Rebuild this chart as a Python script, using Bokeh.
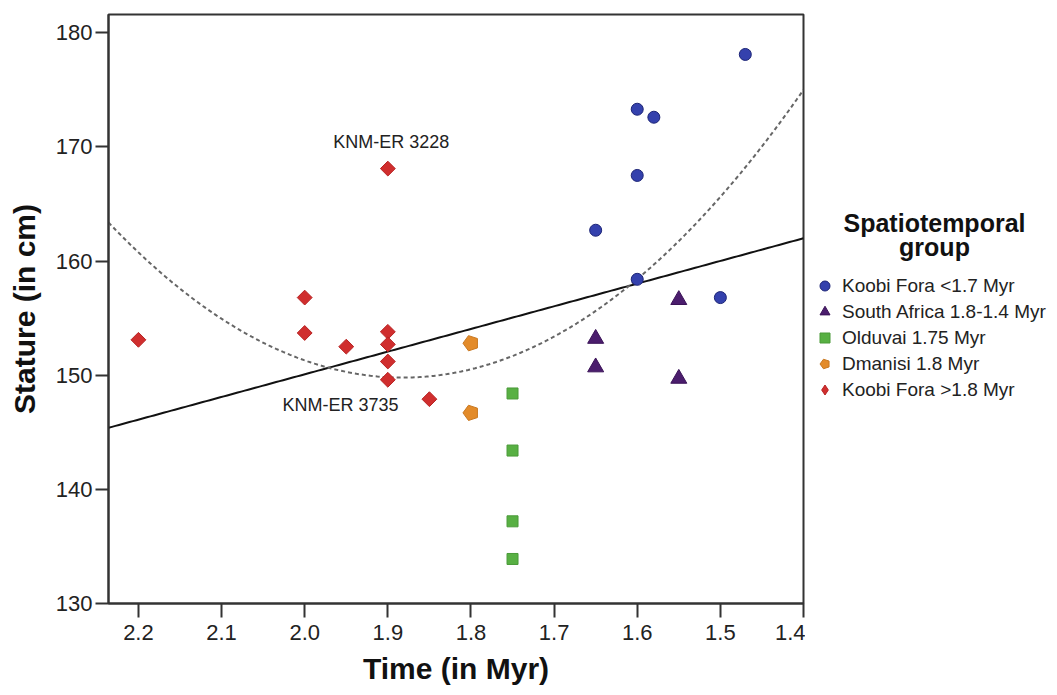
import numpy as np
from bokeh.plotting import figure
from bokeh.layouts import row
from bokeh.models import Range1d, FixedTicker, NumeralTickFormatter, Legend, LegendItem, Label
from bokeh.embed import file_html
from bokeh.resources import INLINE

# ---- data ----
kf_young_time = [1.47, 1.60, 1.58, 1.60, 1.65, 1.60, 1.50]
kf_young_stature = [178.1, 173.3, 172.6, 167.5, 162.7, 158.4, 156.8]
sa_time = [1.55, 1.65, 1.65, 1.55]
sa_stature = [156.6, 153.2, 150.7, 149.7]
olduvai_time = [1.75, 1.75, 1.75, 1.75]
olduvai_stature = [148.4, 143.4, 137.2, 133.9]
dmanisi_time = [1.80, 1.80]
dmanisi_stature = [152.8, 146.7]
kf_old_time = [1.90, 2.00, 2.20, 2.00, 1.95, 1.90, 1.90, 1.90, 1.90, 1.85]
kf_old_stature = [168.1, 156.8, 153.1, 153.7, 152.5, 153.8, 152.7, 151.2, 149.6, 147.9]

group_labels = ["Koobi Fora <1.7 Myr", "South Africa 1.8-1.4 Myr", "Olduvai 1.75 Myr",
                "Dmanisi 1.8 Myr", "Koobi Fora >1.8 Myr"]
legend_title_lines = ["Spatiotemporal", "group"]

linear_fit = [189.8, -19.86]            # intercept, slope
quadratic_fit = [108.5, -408.4, 534.1]  # a, b, c

x_ticks = [2.2, 2.1, 2.0, 1.9, 1.8, 1.7, 1.6, 1.5, 1.4]
y_ticks = [130, 140, 150, 160, 170, 180]

annot_text = ["KNM-ER 3228", "KNM-ER 3735"]
annot_x = [1.896, 1.957]
annot_y = [170.4, 147.4]

FONT = "Liberation Sans"
X_START, X_END = 2.236, 1.4
TOP, BOTTOM = 14, 92

# group styles: (marker, size, fill, line)
styles = [
    ("circle", 12, "#3441ad", "#1d2577"),
    ("triangle", 16, "#4b1d6d", "#3a1257"),
    ("square", 11, "#58b043", "#4a9a38"),
    ("pentagon", 8, "#e38b2a", "#c97820"),
    ("diamond", 10.5, "#d02e2e", "#b82323"),
]

p = figure(width=805, height=695, output_backend="svg", toolbar_location=None,
           x_range=Range1d(X_START, X_END), y_range=Range1d(130, 181.6),
           min_border_left=108, min_border_right=2, min_border_top=TOP, min_border_bottom=BOTTOM)
p.grid.visible = False
p.outline_line_color = "#333333"
p.outline_line_width = 2
p.background_fill_color = "white"
p.border_fill_color = "white"

for ax in (p.xaxis[0], p.yaxis[0]):
    ax.axis_line_color = "#333333"
    ax.axis_line_width = 2
    ax.major_tick_line_color = "#333333"
    ax.major_tick_line_width = 2
    ax.major_tick_in = 0
    ax.minor_tick_line_color = None
    ax.major_label_text_font = FONT
    ax.major_label_text_font_size = "22px"
    ax.major_label_text_color = "#222222"
    ax.axis_label_text_font = FONT
    ax.axis_label_text_font_style = "bold"
    ax.axis_label_text_font_size = "30px"
    ax.axis_label_text_color = "#111111"

p.xaxis.ticker = FixedTicker(ticks=x_ticks)
p.xaxis.formatter = NumeralTickFormatter(format="0.0")
p.xaxis.major_tick_out = 14
p.xaxis.major_label_standoff = 7
p.xaxis.axis_label = "Time (in Myr)"
p.xaxis.axis_label_standoff = 9

p.yaxis.ticker = FixedTicker(ticks=y_ticks)
p.yaxis.major_tick_out = 13
p.yaxis.major_label_standoff = 3
p.yaxis.axis_label = "Stature (in cm)"
p.yaxis.axis_label_standoff = 12

# fit lines
xs = np.linspace(X_START, X_END, 200)
p.line(xs, linear_fit[0] + linear_fit[1] * xs, line_color="#111111", line_width=2)
p.line(xs, np.polyval(quadratic_fit, xs), line_color="#666666", line_width=2, line_dash="4 3")


def draw_group(fig, xv, yv, style, for_legend=False):
    marker, size, fill, line = style
    if marker == "pentagon":
        if hasattr(fig, "ngon"):
            return fig.ngon(x=xv, y=yv, radius=size, radius_units="screen", n=5, angle=np.pi / 2,
                            fill_color=fill, line_color=line, line_width=1)
        return fig.scatter(xv, yv, marker="hex", size=2 * size, angle=np.pi / 2,
                           fill_color=fill, line_color=line, line_width=1)
    if marker == "diamond":
        if for_legend:
            return fig.scatter(xv, yv, marker="diamond", size=size,
                               fill_color=fill, line_color=line, line_width=1)
        return fig.scatter(xv, yv, marker="square", size=size, angle=np.pi / 4,
                           fill_color=fill, line_color=line, line_width=1)
    return fig.scatter(xv, yv, marker=marker, size=size,
                       fill_color=fill, line_color=line, line_width=1)


groups = [(kf_young_time, kf_young_stature), (sa_time, sa_stature),
          (olduvai_time, olduvai_stature), (dmanisi_time, dmanisi_stature),
          (kf_old_time, kf_old_stature)]
for (xv, yv), st in zip(groups, styles):
    draw_group(p, xv, yv, st)

for t, x, y in zip(annot_text, annot_x, annot_y):
    p.add_layout(Label(x=x, y=y, text=t, text_align="center", text_baseline="middle",
                       text_font=FONT, text_font_size="18px", text_color="#222222"))

# ---- legend panel (page pixels as data units) ----
LW = 252
p2 = figure(width=LW, height=695, output_backend="svg", toolbar_location=None,
            x_range=Range1d(0, LW), y_range=Range1d(695 - BOTTOM, TOP),
            min_border_left=0, min_border_right=0, min_border_top=TOP, min_border_bottom=BOTTOM)
p2.axis.visible = False
p2.grid.visible = False
p2.outline_line_color = None
p2.background_fill_color = "white"
p2.border_fill_color = "white"

legend_renderers = []
for (xv, yv), st in zip(groups, styles):
    r = draw_group(p2, xv, yv, st, for_legend=True)
    r.visible = False
    legend_renderers.append(r)

legend = Legend(items=[LegendItem(label=l, renderers=[r]) for l, r in
                       zip(group_labels, legend_renderers)],
                location=(7, 201), glyph_width=25, glyph_height=25, label_height=25,
                spacing=1, padding=0, margin=0, label_standoff=5,
                inactive_fill_alpha=0,
                label_text_font=FONT, label_text_font_size="19px", label_text_color="#222222",
                border_line_color=None, background_fill_alpha=0)
p2.add_layout(legend)

for txt, base in zip(legend_title_lines, [222, 246]):
    p2.add_layout(Label(x=129, y=base, text=txt, text_align="center", text_baseline="alphabetic",
                        text_font=FONT, text_font_style="bold", text_font_size="25px",
                        text_color="#111111"))

open("out.html", "w").write(file_html(row(p, p2), INLINE))
